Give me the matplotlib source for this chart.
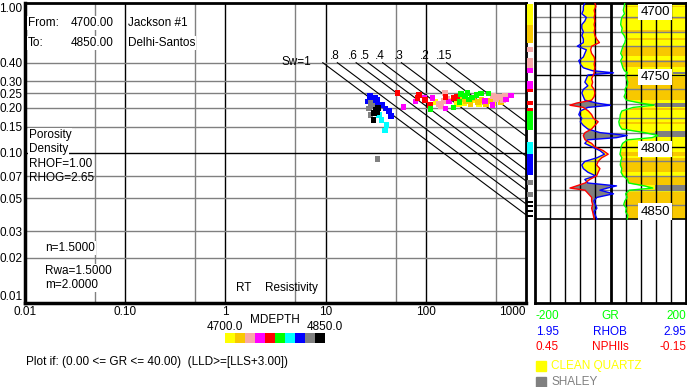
import numpy as np
import matplotlib.pyplot as plt

plt.rcParams['font.family'] = ['Liberation Sans', 'DejaVu Sans']

# ---- Pickett plot points: RT, porosity, depth ----
pt_rt = [125, 135, 170, 205, 215, 240, 300, 340, 420, 470,
         225, 250, 280, 300, 330, 360, 400, 440, 520, 560,
         135, 142, 150, 156, 162, 470, 500, 540, 590, 620,
         60, 79, 97, 117, 158, 171, 390, 464, 631, 708,
         52, 85, 83, 98, 110, 158, 190, 205,
         111, 189, 216, 225, 245, 260, 290, 320, 355, 423, 270,
         34, 36, 40.7, 39.2,
         27.7, 26.1, 29.3, 32.9, 30.4, 36.9, 39.8, 43, 44.7, 33.5, 31.5, 28.5,
         28.2, 27.1, 28.2, 29.5, 32.9,
         32.9, 30.4, 30.0, 31.5, 33.5]
pt_phi = [0.218, 0.213, 0.222, 0.216, 0.211, 0.214, 0.225, 0.213, 0.220, 0.215,
          0.228, 0.220, 0.212, 0.232, 0.218, 0.225, 0.210, 0.222, 0.228, 0.218,
          0.212, 0.205, 0.222, 0.252, 0.230, 0.240, 0.228, 0.236, 0.226, 0.242,
          0.203, 0.220, 0.235, 0.233, 0.198, 0.220, 0.222, 0.209, 0.228, 0.241,
          0.252, 0.243, 0.233, 0.226, 0.209, 0.237, 0.232, 0.238,
          0.196, 0.201, 0.219, 0.248, 0.240, 0.252, 0.235, 0.243, 0.250, 0.250, 0.228,
          0.179, 0.166, 0.154, 0.141,
          0.240, 0.220, 0.228, 0.226, 0.215, 0.209, 0.198, 0.191, 0.177, 0.205, 0.232, 0.234,
          0.215, 0.198, 0.179, 0.205, 0.0912,
          0.188, 0.184, 0.166, 0.195, 0.200]
pt_depth = [4708] * 10 + [4722] * 10 + [4737] * 10 + [4752] * 10 + [4767] * 8 + \
           [4782] * 11 + [4797] * 4 + [4812] * 12 + [4827] * 5 + [4842] * 5

mdepth_colors = ['#FFFF00', '#F8C800', '#F8A8A8', '#FF00FF', '#FF0000',
                 '#00FF00', '#00FFFF', '#0000FF', '#808080', '#000000']
sw_values = [1.0, 0.8, 0.6, 0.5, 0.4, 0.3, 0.2, 0.15]
sw_labels = ['Sw=1', '.8', '.6', '.5', '.4', '.3', '.2', '.15']
rwa, m_exp, n_exp = 1.5, 2.0, 1.5

# ---- log track curves ----
log_depth = [4700, 4702.5, 4705, 4707.5, 4710, 4712.5, 4715, 4717.5, 4720, 4722.5,
             4725, 4727.5, 4730, 4732.5, 4735, 4737.5, 4740, 4742.5, 4745,
             4747, 4748.5,
             4750, 4752.5, 4755, 4757.5, 4760, 4762.5, 4765, 4767.5,
             4769.5, 4771, 4772.5,
             4775, 4777.5, 4780, 4782.5, 4785, 4787.5, 4790,
             4792, 4793.5,
             4795, 4797.5, 4800, 4802.5, 4805, 4807.5, 4810, 4812.5, 4815, 4817.5,
             4820, 4822.5, 4825,
             4827, 4828.5,
             4830, 4832.5, 4835, 4837.5, 4840, 4842.5, 4845, 4847.5, 4850]
rhob = [2.28, 2.27, 2.27, 2.26, 2.29, 2.28, 2.26, 2.26, 2.27, 2.26,
        2.27, 2.27, 2.23, 2.29, 2.28, 2.27, 2.24, 2.25, 2.27,
        2.33, 2.47,
        2.30, 2.29, 2.28, 2.30, 2.27, 2.26, 2.27, 2.28,
        2.36, 2.45, 2.30,
        2.25, 2.24, 2.26, 2.25, 2.27, 2.30, 2.38,
        2.56, 2.49,
        2.30, 2.28, 2.33, 2.38, 2.41, 2.36, 2.28, 2.26, 2.27, 2.30,
        2.35, 2.28, 2.30,
        2.49, 2.43,
        2.38, 2.47, 2.36, 2.34, 2.35, 2.36, 2.34, 2.35, 2.36]
nphi = [0.212, 0.208, 0.215, 0.212, 0.215, 0.212, 0.215, 0.212, 0.215, 0.212,
        0.205, 0.194, 0.225, 0.229, 0.225, 0.215, 0.212, 0.215, 0.212,
        0.215, 0.215,
        0.218, 0.225, 0.221, 0.225, 0.215, 0.212, 0.215, 0.225,
        0.285, 0.311, 0.258,
        0.238, 0.225, 0.218, 0.199, 0.212, 0.225, 0.251,
        0.258, 0.255,
        0.251, 0.225, 0.212, 0.179, 0.159, 0.185, 0.199, 0.205, 0.192, 0.199,
        0.205, 0.232, 0.251,
        0.285, 0.311,
        0.251, 0.238, 0.225, 0.225, 0.221, 0.225, 0.221, 0.218, 0.215]
gr = [38, 36, 34, 37, 30, 28, 27, 31, 29, 36,
      40, 38, 33, 30, 27, 32, 27, 30, 33,
      37, 45,
      40, 42, 46, 44, 38, 40, 36, 42,
      80, 115, 60,
      30, 26, 25, 22, 24, 30, 90,
      126, 110,
      45, 32, 28, 27, 25, 30, 27, 26, 30, 28,
      33, 45, 48,
      90, 112,
      50, 40, 44, 38, 35, 42, 40, 46, 44]

# lithology column
orange_top = [4702, 4709.7, 4718.8, 4724, 4730.5, 4739.6, 4751.4, 4773, 4782.6, 4803.5, 4807.6, 4820, 4831]
orange_bot = [4703, 4711, 4720.8, 4725.7, 4736.8, 4744.4, 4767.4, 4774.3, 4784, 4806, 4817.4, 4826.4, 4849.3]
shale_top = [4747.8, 4769.5, 4789.0, 4826.5]
shale_bot = [4749.3, 4772.2, 4793.3, 4829.8]
shale_left = [165, 118, 118, 118]

# depths that passed the filter (colour strip)
strip_top = [4701, 4730.5, 4738, 4754, 4768, 4773, 4796.5, 4823, 4831, 4837.5, 4840, 4843.8, 4847]
strip_bot = [4728, 4734, 4748.6, 4762, 4771, 4788, 4819.4, 4826.4, 4834.7, 4839, 4841.7, 4845, 4848.6]

W, H = 687, 387
fig = plt.figure(figsize=(W / 100, H / 100), dpi=100)


def box(x0, y0, x1, y1):
    return fig.add_axes([x0 / W, 1 - y1 / H, (x1 - x0) / W, (y1 - y0) / H])


def label(x, y, s, **kw):
    kw.setdefault('fontsize', 8.5)
    kw.setdefault('va', 'center')
    return fig.text(x / W, 1 - y / H, s, **kw)


def bin_color(d):
    return mdepth_colors[min(int((d - 4700) // 15), 9)]


white = dict(facecolor='white', edgecolor='none', pad=0.6)

# ---------------- main Pickett plot ----------------
ax = box(25, 3, 526, 303)
ax.set_xscale('log')
ax.set_yscale('log')
ax.set_xlim(0.01, 1000)
ax.set_ylim(0.01, 1.0)
for v in [0.05, 0.5, 5, 50, 500]:
    ax.axvline(v, color='#808080', lw=1, zorder=1)
for v in [0.1, 1, 10, 100]:
    ax.axvline(v, color='black', lw=1, zorder=1)
for v in [0.4, 0.3, 0.25, 0.2, 0.15, 0.07, 0.05, 0.03, 0.02]:
    ax.axhline(v, color='#808080', lw=1, zorder=1)
ax.axhline(0.1, color='black', lw=1, zorder=1)

for sw, lab in zip(sw_values, sw_labels):
    rt0 = rwa / (0.4 ** m_exp * sw ** n_exp)
    rt = np.array([rt0, 1000.0])
    phi = (rwa / (rt * sw ** n_exp)) ** (1 / m_exp)
    ax.plot(rt, phi, color='black', lw=0.8, zorder=2)
    if sw == 1.0:
        ax.text(rt0 / 1.3, 0.405, lab, ha='right', va='center', fontsize=8.5)
    else:
        ax.text(rt0 / 1.07, 0.443, lab, ha='center', va='center', fontsize=8.5)

order = np.argsort(pt_depth, kind='stable')
ax.scatter(np.array(pt_rt)[order], np.array(pt_phi)[order], marker='s', s=16,
           c=[bin_color(pt_depth[i]) for i in order], linewidths=0, zorder=3)

ax.set_xticks([0.01, 0.1, 1, 10, 100, 1000])
ax.set_xticklabels(['0.01', '0.10', '1', '10', '100', '1000'])
ax.set_yticks([1.0, 0.4, 0.3, 0.25, 0.2, 0.15, 0.1, 0.07, 0.05, 0.03, 0.02, 0.01])
ax.set_yticklabels(['1.00', '0.40', '0.30', '0.25', '0.20', '0.15', '0.10',
                    '0.07', '0.05', '0.03', '0.02', '0.01'])
ax.xaxis.set_minor_locator(plt.NullLocator())
ax.yaxis.set_minor_locator(plt.NullLocator())
ax.tick_params(length=0, labelsize=8.5, pad=2)
ax.get_xticklabels()[-1].set_ha('right')
ax.get_yticklabels()[0].set_va('top')
ax.get_yticklabels()[-1].set_va('bottom')
for s in ax.spines.values():
    s.set_linewidth(2)
ax.spines['left'].set_linewidth(2.5)
ax.spines['bottom'].set_linewidth(2.5)

label(28, 23, 'From:', bbox=white)
label(71, 23, '4700.00', bbox=white)
label(128, 23, 'Jackson #1', bbox=white)
label(28, 43, 'To:', bbox=white)
label(71, 43, '4850.00', bbox=white)
label(128, 43, 'Delhi-Santos', bbox=white)
label(29, 135, 'Porosity', bbox=white)
label(29, 149, 'Density', bbox=white)
label(29, 164, 'RHOF=1.00', bbox=white)
label(29, 178, 'RHOG=2.65')
label(45, 248, 'n=1.5000', bbox=white)
label(45, 271, 'Rwa=1.5000', bbox=white)
label(45, 285, 'm=2.0000', bbox=white)
label(236, 288, 'RT')
label(265, 288, 'Resistivity')

# depth colour legend
label(275, 320, 'MDEPTH', ha='center')
label(225, 327, '4700.0', ha='center')
label(325, 327, '4850.0', ha='center')
axl = box(225, 333, 325, 343)
axl.bar(np.arange(10), 1, width=1, color=mdepth_colors, align='edge')
axl.set_xlim(0, 10)
axl.set_ylim(0, 1)
axl.axis('off')
label(26, 362, 'Plot if: (0.00 <= GR <= 40.00)  (LLD>=[LLS+3.00])')

# ---------------- depth colour strip ----------------
bottom_depth = 4700 + 300 / 1.44
axs = box(527, 3, 533, 303)
axs.set_xlim(0, 1)
axs.set_ylim(bottom_depth, 4700)
for t, b in zip(strip_top, strip_bot):
    edges = [t] + [e for e in range(4715, 4850, 15) if t < e < b] + [b]
    for a0, a1 in zip(edges[:-1], edges[1:]):
        axs.axhspan(a0, a1, color=bin_color((a0 + a1) / 2), lw=0)
axs.axis('off')

# ---------------- log track ----------------
axt = box(535, 3, 686, 303)
axt.set_xlim(-200, 200)
axt.set_ylim(bottom_depth, 4700)
dep = np.array(log_depth)
g = np.array(gr)
xr = -200 + 400 * (np.array(rhob) - 1.95) / 1.0
xn = -200 + 400 * (0.45 - np.array(nphi)) / 0.6

axt.axhspan(4700, 4850, color='#FFFF00', lw=0, zorder=0.5)
for t, b in zip(orange_top, orange_bot):
    axt.axhspan(t, b, color='#F8C800', lw=0, zorder=0.6)
for t, b, xl in zip(shale_top, shale_bot, shale_left):
    axt.fill_betweenx([t, b], xl, 200, color='#808080', lw=0, zorder=0.7)
axt.fill_betweenx(dep, -200, g, color='white', lw=0, zorder=0.8)

axt.fill_betweenx(dep, xr, xn, where=xr <= xn, interpolate=True,
                  color='#FFFF00', lw=0, zorder=1)
axt.fill_betweenx(dep, xr, xn, where=xr > xn, interpolate=True,
                  color='#808080', lw=0, zorder=1)

for d in range(4710, 4850, 10):
    if d % 50:
        axt.axhline(d, color='#808080', lw=1, zorder=2)
for d in [4750, 4800]:
    axt.axhline(d, color='black', lw=1, zorder=2)
axt.axhline(4850, color='black', lw=1.2, zorder=2)
for k in range(1, 10):
    axt.axvline(-200 + 40 * k, color='black', lw=2 if k == 5 else 1, zorder=2)

axt.plot(xr, dep, color='#0000FF', lw=1, zorder=3)
axt.plot(xn, dep, color='#FF0000', lw=1, zorder=3)
axt.plot(g, dep, color='#00FF00', lw=1, zorder=3)

for d, yl in [(4700, 4706), (4750, 4751.5), (4800, 4801.5), (4850, 4844.8)]:
    axt.text(118, yl, str(d), ha='center', va='center', fontsize=9.5, zorder=4,
             bbox=dict(facecolor='white', edgecolor='none', pad=1.5))
axt.set_xticks([])
axt.set_yticks([])
for s in axt.spines.values():
    s.set_linewidth(2)

# track legend
for y, col, lo, name, hi in [(316, '#00FF00', '-200', 'GR', '200'),
                             (332, '#0000FF', '1.95', 'RHOB', '2.95'),
                             (347, '#FF0000', '0.45', 'NPHIls', '-0.15')]:
    label(536, y, lo, color=col)
    label(610, y, name, color=col, ha='center')
    label(686, y, hi, color=col, ha='right')
for y, col, name in [(366, '#FFFF00', 'CLEAN QUARTZ'), (382, '#808080', 'SHALEY')]:
    fig.patches.append(plt.Rectangle((536 / W, 1 - (y + 5) / H), 10 / W, 10 / H,
                                     transform=fig.transFigure, color=col))
    label(551, y, name, color=col)

fig.savefig('out.png', dpi=100)
